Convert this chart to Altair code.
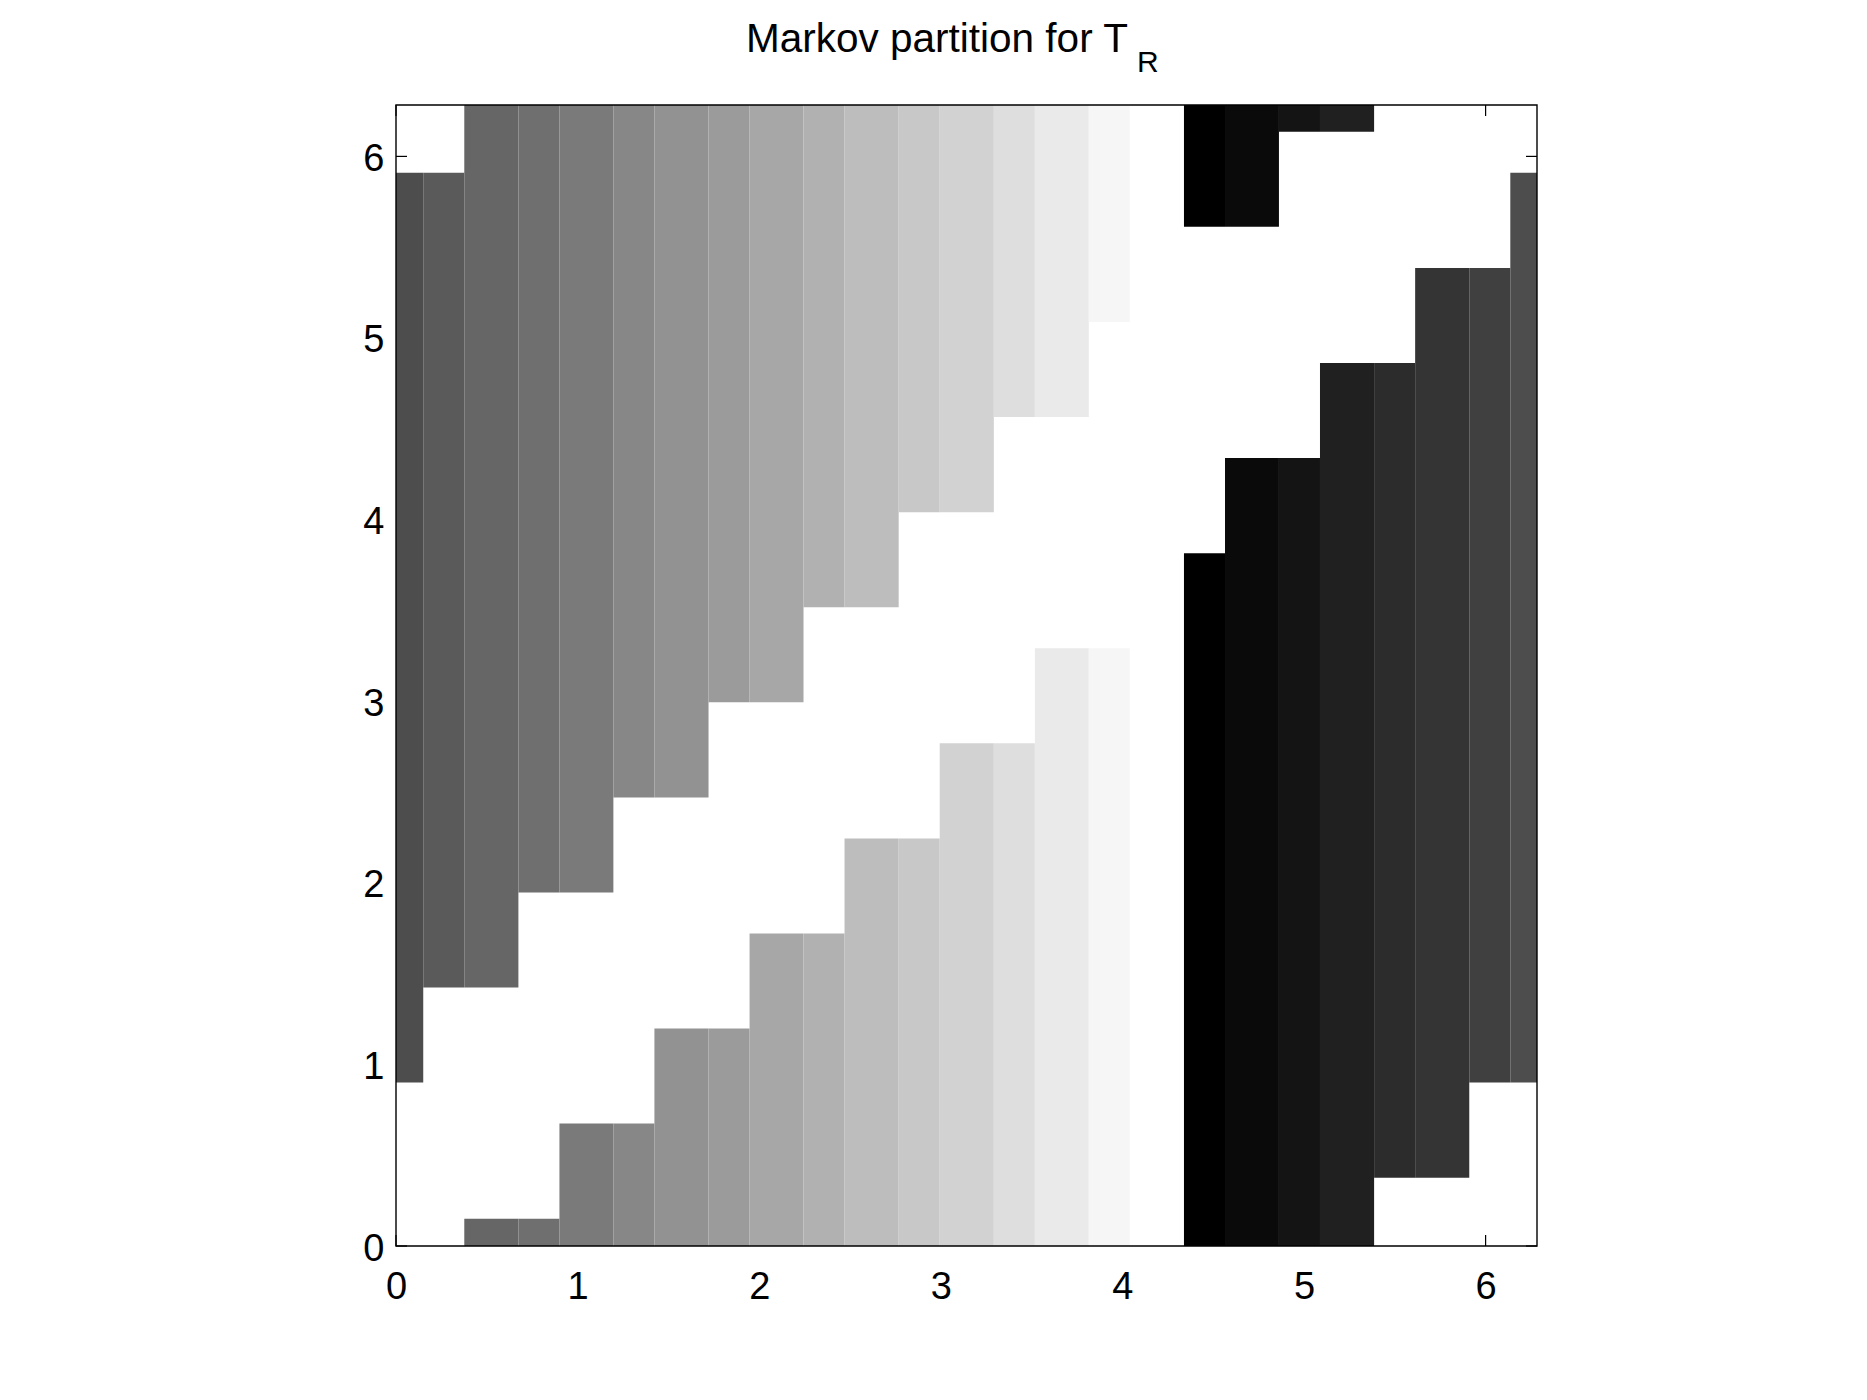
import altair as alt
import pandas as pd

# ---- data ----
# partition points along x (column edges), 0 .. 2*pi
x_edges = [0.0, 0.150, 0.376, 0.674, 0.900, 1.197, 1.423, 1.721, 1.947, 2.244,
           2.470, 2.768, 2.994, 3.292, 3.518, 3.815, 4.041, 4.339, 4.565, 4.862,
           5.088, 5.386, 5.612, 5.910, 6.136, 6.283]

# gray level of each column
cell_gray = ["#4d4d4d", "#5a5a5a", "#666666", "#6f6f6f", "#7a7a7a", "#878787",
             "#929292", "#9b9b9b", "#a7a7a7", "#b1b1b1", "#bdbdbd", "#c8c8c8",
             "#d2d2d2", "#dedede", "#eaeaea", "#f6f6f6", "#ffffff", "#000000",
             "#0a0a0a", "#141414", "#202020", "#2c2c2c", "#343434", "#404040",
             "#4d4d4d"]

# main vertical band of each column (image interval)
band_lo = [0.900, 1.423, 1.423, 1.947, 1.947, 2.470, 2.470, 2.994, 2.994, 3.518,
           3.518, 4.041, 4.041, 4.565, 4.565, 5.088, 5.088, 5.612, 5.612, 6.136,
           6.136, 0.376, 0.376, 0.900, 0.900]
band_hi = [5.910, 5.910, 6.283, 6.283, 6.283, 6.283, 6.283, 6.283, 6.283, 6.283,
           6.283, 6.283, 6.283, 6.283, 6.283, 6.283, 6.283, 6.283, 6.283, 6.283,
           6.283, 4.862, 5.386, 5.386, 5.910]
# wrapped-around part starting at 0 (0 = none)
wrap_hi = [0.0, 0.0, 0.150, 0.150, 0.674, 0.674, 1.197, 1.197, 1.721, 1.721,
           2.244, 2.244, 2.768, 2.768, 3.292, 3.292, 3.815, 3.815, 4.339, 4.339,
           4.862, 0.0, 0.0, 0.0, 0.0]

tick_values = [0, 1, 2, 3, 4, 5, 6]
axis_max = 6.283
title_main = ["Markov partition for T"]
title_sub = ["R"]

# ---- build table ----
rows = []
for i in range(len(cell_gray)):
    rows.append(dict(x0=x_edges[i], x1=x_edges[i + 1], y0=band_lo[i], y1=band_hi[i], fill=cell_gray[i]))
    if wrap_hi[i] > 0:
        rows.append(dict(x0=x_edges[i], x1=x_edges[i + 1], y0=0.0, y1=wrap_hi[i], fill=cell_gray[i]))
cells = pd.DataFrame(rows)
ticks_df = pd.DataFrame({"t": tick_values})

W = 1141
H = 1141
TL = 11
FONT = "Liberation Sans"

xs = alt.Scale(domain=[0, axis_max], nice=False, zero=False)
ys = alt.Scale(domain=[0, axis_max], nice=False, zero=False)

x_axis = alt.Axis(values=tick_values, format="d", labelPadding=22, orient="bottom",
                  labelFlush=False)
y_axis = alt.Axis(values=tick_values, format="d", labelPadding=12, labelOffset=3, orient="left",
                  labelFlush=False)

tick_style = dict(color="black", strokeWidth=1.2)

bottom_ticks = alt.Chart(ticks_df).mark_rule(**tick_style).encode(
    x=alt.X("t:Q", scale=xs, axis=x_axis, title=None),
    y=alt.value(H), y2=alt.value(H - TL))
top_ticks = alt.Chart(ticks_df).mark_rule(**tick_style).encode(
    x=alt.X("t:Q", scale=xs, axis=x_axis, title=None),
    y=alt.value(0), y2=alt.value(TL))
left_ticks = alt.Chart(ticks_df).mark_rule(**tick_style).encode(
    y=alt.Y("t:Q", scale=ys, axis=y_axis, title=None),
    x=alt.value(0), x2=alt.value(TL))
right_ticks = alt.Chart(ticks_df).mark_rule(**tick_style).encode(
    y=alt.Y("t:Q", scale=ys, axis=y_axis, title=None),
    x=alt.value(W), x2=alt.value(W - TL))

rects = alt.Chart(cells).mark_rect(strokeWidth=0).encode(
    x=alt.X("x0:Q", scale=xs, axis=x_axis, title=None),
    x2="x1:Q",
    y=alt.Y("y0:Q", scale=ys, axis=y_axis, title=None),
    y2="y1:Q",
    fill=alt.Fill("fill:N", scale=None),
)

box = alt.Chart(pd.DataFrame({"a": [0]})).mark_rect(
    fillOpacity=0, stroke="black", strokeWidth=1.4
).encode(x=alt.value(0), x2=alt.value(W), y=alt.value(0), y2=alt.value(H))

t_main = alt.Chart(pd.DataFrame({"s": title_main})).mark_text(
    font=FONT, fontSize=40.5, align="left", baseline="alphabetic", color="black"
).encode(text="s:N", x=alt.value(350), y=alt.value(-53))
t_sub = alt.Chart(pd.DataFrame({"s": title_sub})).mark_text(
    font=FONT, fontSize=30, align="left", baseline="alphabetic", color="black"
).encode(text="s:N", x=alt.value(741), y=alt.value(-33))

chart = alt.layer(
    bottom_ticks, top_ticks, left_ticks, right_ticks, rects, box, t_main, t_sub
).properties(
    width=W, height=H,
    autosize=alt.AutoSizeParams(type="none"),
    padding={"left": 388, "top": 97, "right": 300, "bottom": 130},
    background="white",
).configure_view(stroke=None).configure_axis(
    domain=False, ticks=False, tickSize=0, grid=False,
    labelFont=FONT, labelFontSize=38, labelColor="black",
)

chart.save("out.html", embed_options={"renderer": "svg", "actions": False})
